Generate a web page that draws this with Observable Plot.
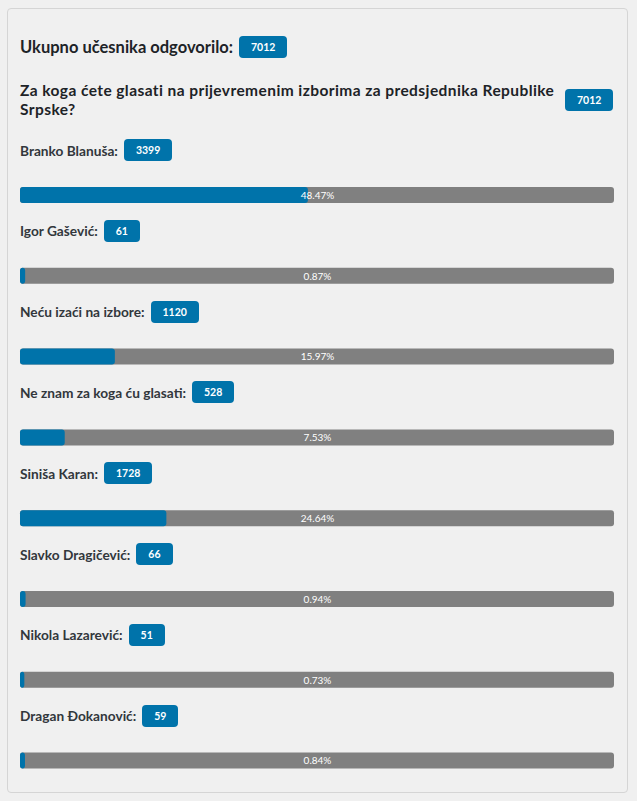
<!DOCTYPE html>
<html><head><meta charset="utf-8">
<script src="https://cdn.jsdelivr.net/npm/d3@7"></script>
<script src="https://cdn.jsdelivr.net/npm/@observablehq/plot@0.6"></script>
<style>
html,body{margin:0;padding:0;background:#f0f0f0;}
body{font-family:Lato,"Noto Sans",sans-serif;}
#wrap{position:relative;width:637px;height:801px;overflow:hidden;}
#panel{position:absolute;left:7px;top:8px;width:621px;height:785px;border:1px solid #d5d5d5;border-radius:4px;box-sizing:border-box;}
#chart{position:absolute;left:0;top:0;}
.badge{display:inline-flex;align-items:center;justify-content:center;background:#0073aa;color:#fff;font-weight:700;font-size:10.5px;border-radius:4px;height:22px;padding:0 12px;box-sizing:border-box;letter-spacing:0;}
.hrow{position:absolute;left:20px;display:flex;align-items:center;color:#1d2327;font-weight:700;font-size:16.5px;}
.lrow{position:absolute;left:20px;display:flex;align-items:center;color:#32373c;font-weight:700;font-size:13.7px;height:22px;}
.lrow .badge{margin-left:6px;}
</style></head>
<body><div id="wrap"><div id="panel"></div><div id="chart"></div>
<div class="hrow" id="total" style="top:36px;height:22px;"></div>
<div class="hrow" id="question" style="top:81px;height:37px;"></div>
</div>
<script>
const totalLabel = "Ukupno učesnika odgovorilo:";
const questionLine1 = "Za koga ćete glasati na prijevremenim izborima za predsjednika Republike";
const questionLine2 = "Srpske?";
const totalVotes = 7012;
const candidates = ["Branko Blanuša", "Igor Gašević", "Neću izaći na izbore", "Ne znam za koga ću glasati", "Siniša Karan", "Slavko Dragičević", "Nikola Lazarević", "Dragan Đokanović"];
const votes = [3399, 61, 1120, 528, 1728, 66, 51, 59];
const percents = [48.47, 0.87, 15.97, 7.53, 24.64, 0.94, 0.73, 0.84];

const rows = candidates.map((name, i) => ({name, votes: votes[i], pct: percents[i]}));

const blue = "#0073aa", grey = "#808080";
const step = 80.8, pad = 1 - 16 / step;
const plot = Plot.plot({
  width: 637, height: 801,
  margin: 0,
  style: {background: "transparent", fontFamily: "Lato, 'Noto Sans', sans-serif"},
  x: {domain: [0, 100], range: [20, 614], axis: null},
  y: {type: "band", domain: candidates, range: [187, 187 + step * (candidates.length - pad)], paddingInner: pad, paddingOuter: 0, align: 0, round: false, axis: null},
  marks: [
    Plot.barX(rows, {x1: 0, x2: 100, y: "name", fill: grey, rx: 3}),
    Plot.barX(rows, {x1: 0, x2: "pct", y: "name", fill: blue, rx: 3}),
    Plot.text(rows, {x: 50, y: "name", text: d => d.pct.toFixed(2) + "%", fill: "white", fontSize: 10})
  ]
});
document.getElementById("chart").appendChild(plot);

const wrap = document.getElementById("wrap");
document.getElementById("total").innerHTML = `<span>${totalLabel}</span><span class="badge" style="margin-left:6px">${totalVotes}</span>`;
document.getElementById("question").innerHTML = `<span style="width:537px;line-height:18.6px;font-size:15.5px;letter-spacing:0.42px">${questionLine1}<br>${questionLine2}</span><span class="badge" style="margin-left:8px">${totalVotes}</span>`;

const y = plot.scale("y");
rows.forEach(r => {
  const c = y.apply(r.name) + y.bandwidth / 2;
  const div = document.createElement("div");
  div.className = "lrow";
  div.style.top = (c - 45 - 11) + "px";
  div.innerHTML = `<span>${r.name}:</span><span class="badge">${r.votes}</span>`;
  wrap.appendChild(div);
});
</script></body></html>
